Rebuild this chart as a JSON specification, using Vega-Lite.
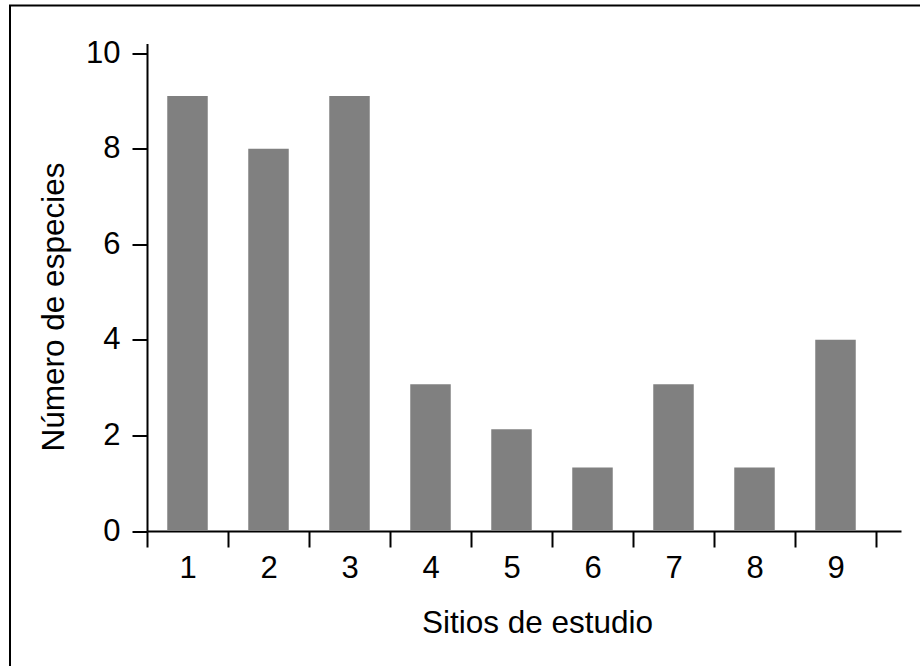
{
  "$schema": "https://vega.github.io/schema/vega-lite/v6.json",
  "autosize": {"type": "none"},
  "padding": {"left": 10, "top": 5.5, "right": 0, "bottom": 0},
  "width": 920,
  "height": 670,
  "background": "white",
  "config": {
    "view": {"stroke": "black", "strokeWidth": 2},
    "font": "Liberation Sans"
  },
  "data": {
    "values": [
      {"sitio": "1", "especies": 9.1},
      {"sitio": "2", "especies": 8.0},
      {"sitio": "3", "especies": 9.1},
      {"sitio": "4", "especies": 3.07},
      {"sitio": "5", "especies": 2.13},
      {"sitio": "6", "especies": 1.33},
      {"sitio": "7", "especies": 3.07},
      {"sitio": "8", "especies": 1.33},
      {"sitio": "9", "especies": 4.0}
    ]
  },
  "mark": {"type": "bar", "color": "#808080", "width": {"band": 0.5}},
  "encoding": {
    "x": {
      "field": "sitio",
      "type": "ordinal",
      "sort": null,
      "scale": {"range": [137, 891], "paddingInner": 0, "paddingOuter": 0.1543, "align": 0},
      "axis": {
        "title": "Sitios de estudio",
        "orient": "bottom",
        "offset": -144.5,
        "labelAngle": 0,
        "tickBand": "extent",
        "domainColor": "black",
        "domainWidth": 2,
        "tickColor": "black",
        "tickWidth": 2,
        "tickSize": 16,
        "labelFontSize": 31,
        "labelColor": "black",
        "labelPadding": 6,
        "titleFontSize": 31.5,
        "titleFontWeight": "normal",
        "titleColor": "black",
        "titleX": 527,
        "titleY": 101,
        "titleBaseline": "alphabetic"
      }
    },
    "y": {
      "field": "especies",
      "type": "quantitative",
      "scale": {"domain": [0, 10.2], "range": [525.5, 38], "nice": false},
      "axis": {
        "title": "Número de especies",
        "orient": "left",
        "offset": -137,
        "values": [0, 2, 4, 6, 8, 10],
        "grid": false,
        "domainColor": "black",
        "domainWidth": 2,
        "tickColor": "black",
        "tickWidth": 2,
        "tickSize": 15,
        "labelFontSize": 31,
        "labelColor": "black",
        "labelPadding": 12,
        "titleFontSize": 31.5,
        "titleFontWeight": "normal",
        "titleColor": "black",
        "titleX": -84,
        "titleY": 301,
        "titleBaseline": "alphabetic"
      }
    }
  }
}
